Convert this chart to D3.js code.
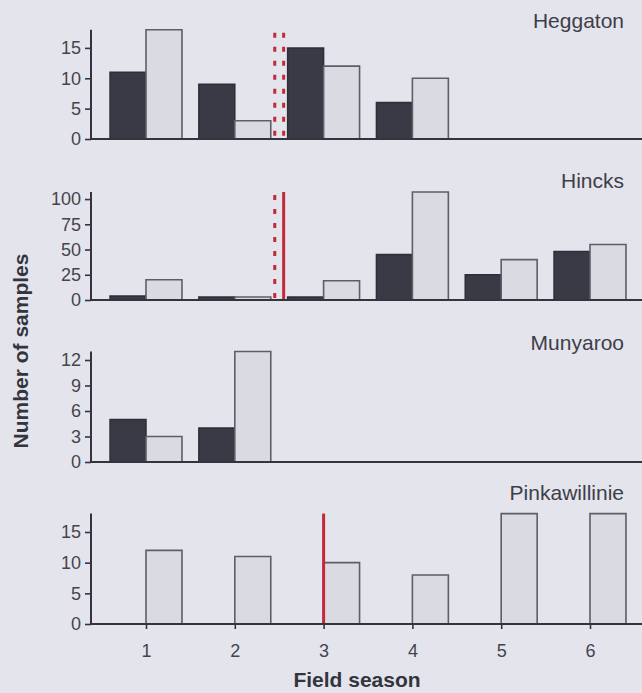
<!DOCTYPE html>
<html>
<head>
<meta charset="utf-8">
<script src="https://cdn.jsdelivr.net/npm/d3@7"></script>
<style>
  html, body { margin: 0; padding: 0; background: #e4e4ec; }
  svg { display: block; }
  text { font-family: "Liberation Sans", Arial, sans-serif; }
</style>
</head>
<body>
<svg id="chart" width="642" height="693"></svg>
<script>
// ---------- data ----------
const seasons = [1, 2, 3, 4, 5, 6];
const sites = ["Heggaton", "Hincks", "Munyaroo", "Pinkawillinie"];

const heggatonDark  = [11, 9, 15, 6, 0, 0];
const heggatonLight = [18, 3, 12, 10, 0, 0];
const hincksDark    = [4, 3, 3, 45, 25, 48];
const hincksLight   = [20, 3, 19, 107, 40, 55];
const munyarooDark  = [5, 4, 0, 0, 0, 0];
const munyarooLight = [3, 13, 0, 0, 0, 0];
const pinkaDark     = [0, 0, 0, 0, 0, 0];
const pinkaLight    = [12, 11, 10, 8, 18, 18];

const heggatonTicks = [0, 5, 10, 15];
const hincksTicks   = [0, 25, 50, 75, 100];
const munyarooTicks = [0, 3, 6, 9, 12];
const pinkaTicks    = [0, 5, 10, 15];

const yMax = [18, 107, 13, 18];

// reference lines: [site index, season position, style]
const refLines = [
  [0, 2.45, "dotted"], [0, 2.55, "dotted"],
  [1, 2.45, "dotted"], [1, 2.55, "solid"],
  [3, 3.0, "solid"]
];

const darkSeries  = [heggatonDark, hincksDark, munyarooDark, pinkaDark];
const lightSeries = [heggatonLight, hincksLight, munyarooLight, pinkaLight];
const tickSets    = [heggatonTicks, hincksTicks, munyarooTicks, pinkaTicks];

// ---------- layout ----------
const svg = d3.select("#chart");
const axisX = 91, rightX = 642;
const baselines = [139, 300, 462, 624];
const tops = [29.7, 192, 351.5, 513.6];
const titleY = [28, 188, 350, 500];

const x = d3.scaleLinear().domain([1, 6]).range([146, 590]);
const barW = (x(2) - x(1)) * 0.405;

const ink = "#34343e";
const red = "#c22a3a";

sites.forEach((site, i) => {
  const y = d3.scaleLinear().domain([0, yMax[i]]).range([baselines[i], tops[i]]);
  const g = svg.append("g");

  const barPath = (x0, x1, v) =>
    `M${x0},${y(0)}V${y(v)}H${x1}V${y(0)}Z`;

  g.selectAll("path.dark").data(seasons).join("path")
    .attr("class", "dark")
    .attr("d", (s, k) => barPath(x(s) - barW, x(s), darkSeries[i][k]))
    .attr("fill", "#3a3a47")
    .attr("stroke", "#2e2e38")
    .attr("stroke-width", 1.5);

  g.selectAll("path.light").data(seasons).join("path")
    .attr("class", "light")
    .attr("d", (s, k) => barPath(x(s), x(s) + barW, lightSeries[i][k]))
    .attr("fill", "#dadae2")
    .attr("stroke", "#5e5e68")
    .attr("stroke-width", 1.6);

  refLines.filter(r => r[0] === i).forEach(r => {
    const ln = g.append("line")
      .attr("x1", x(r[1])).attr("x2", x(r[1]))
      .attr("y1", y(yMax[i]) + (r[2] === "dotted" ? 3 : 0)).attr("y2", y(0))
      .attr("stroke", red)
      .attr("stroke-width", 3);
    if (r[2] === "dotted") ln.attr("stroke-dasharray", "5,9");
  });

  const ya = g.append("g")
    .attr("transform", `translate(${axisX},0)`)
    .call(d3.axisLeft(y).tickValues(tickSets[i]).tickSize(6).tickPadding(4).tickFormat(d3.format("d")));
  ya.select(".domain").remove();
  ya.selectAll(".tick line").attr("stroke", ink).attr("stroke-width", 1.6);
  ya.selectAll(".tick text")
    .attr("fill", "#44444e")
    .style("font-size", "18px")
    .style("font-family", "'Liberation Sans', Arial, sans-serif");

  g.append("line")
    .attr("x1", axisX).attr("x2", axisX)
    .attr("y1", y(yMax[i])).attr("y2", y(0) + 1)
    .attr("stroke", ink).attr("stroke-width", 2);
  g.append("line")
    .attr("x1", axisX).attr("x2", rightX)
    .attr("y1", y(0)).attr("y2", y(0))
    .attr("stroke", ink).attr("stroke-width", 2);

  g.append("text")
    .attr("x", 624).attr("y", titleY[i])
    .attr("text-anchor", "end")
    .attr("fill", "#3e3e48")
    .style("font-size", "21px")
    .text(site);

  if (i === sites.length - 1) {
    const xa = g.append("g")
      .attr("transform", `translate(0,${y(0)})`)
      .call(d3.axisBottom(x).tickValues(seasons).tickSize(5).tickPadding(15).tickFormat(d3.format("d")));
    xa.select(".domain").remove();
    xa.selectAll(".tick line").attr("stroke", ink).attr("stroke-width", 1.6);
    xa.selectAll(".tick text")
      .attr("fill", "#44444e")
      .style("font-size", "18px")
      .style("font-family", "'Liberation Sans', Arial, sans-serif");
  }
});

svg.append("text")
  .attr("x", 357).attr("y", 687)
  .attr("text-anchor", "middle")
  .attr("fill", "#34343e")
  .style("font-size", "21px").style("font-weight", "bold")
  .text("Field season");

svg.append("text")
  .attr("transform", "translate(28,351) rotate(-90)")
  .attr("text-anchor", "middle")
  .attr("fill", "#34343e")
  .style("font-size", "21px").style("font-weight", "bold")
  .text("Number of samples");
</script>
</body>
</html>
